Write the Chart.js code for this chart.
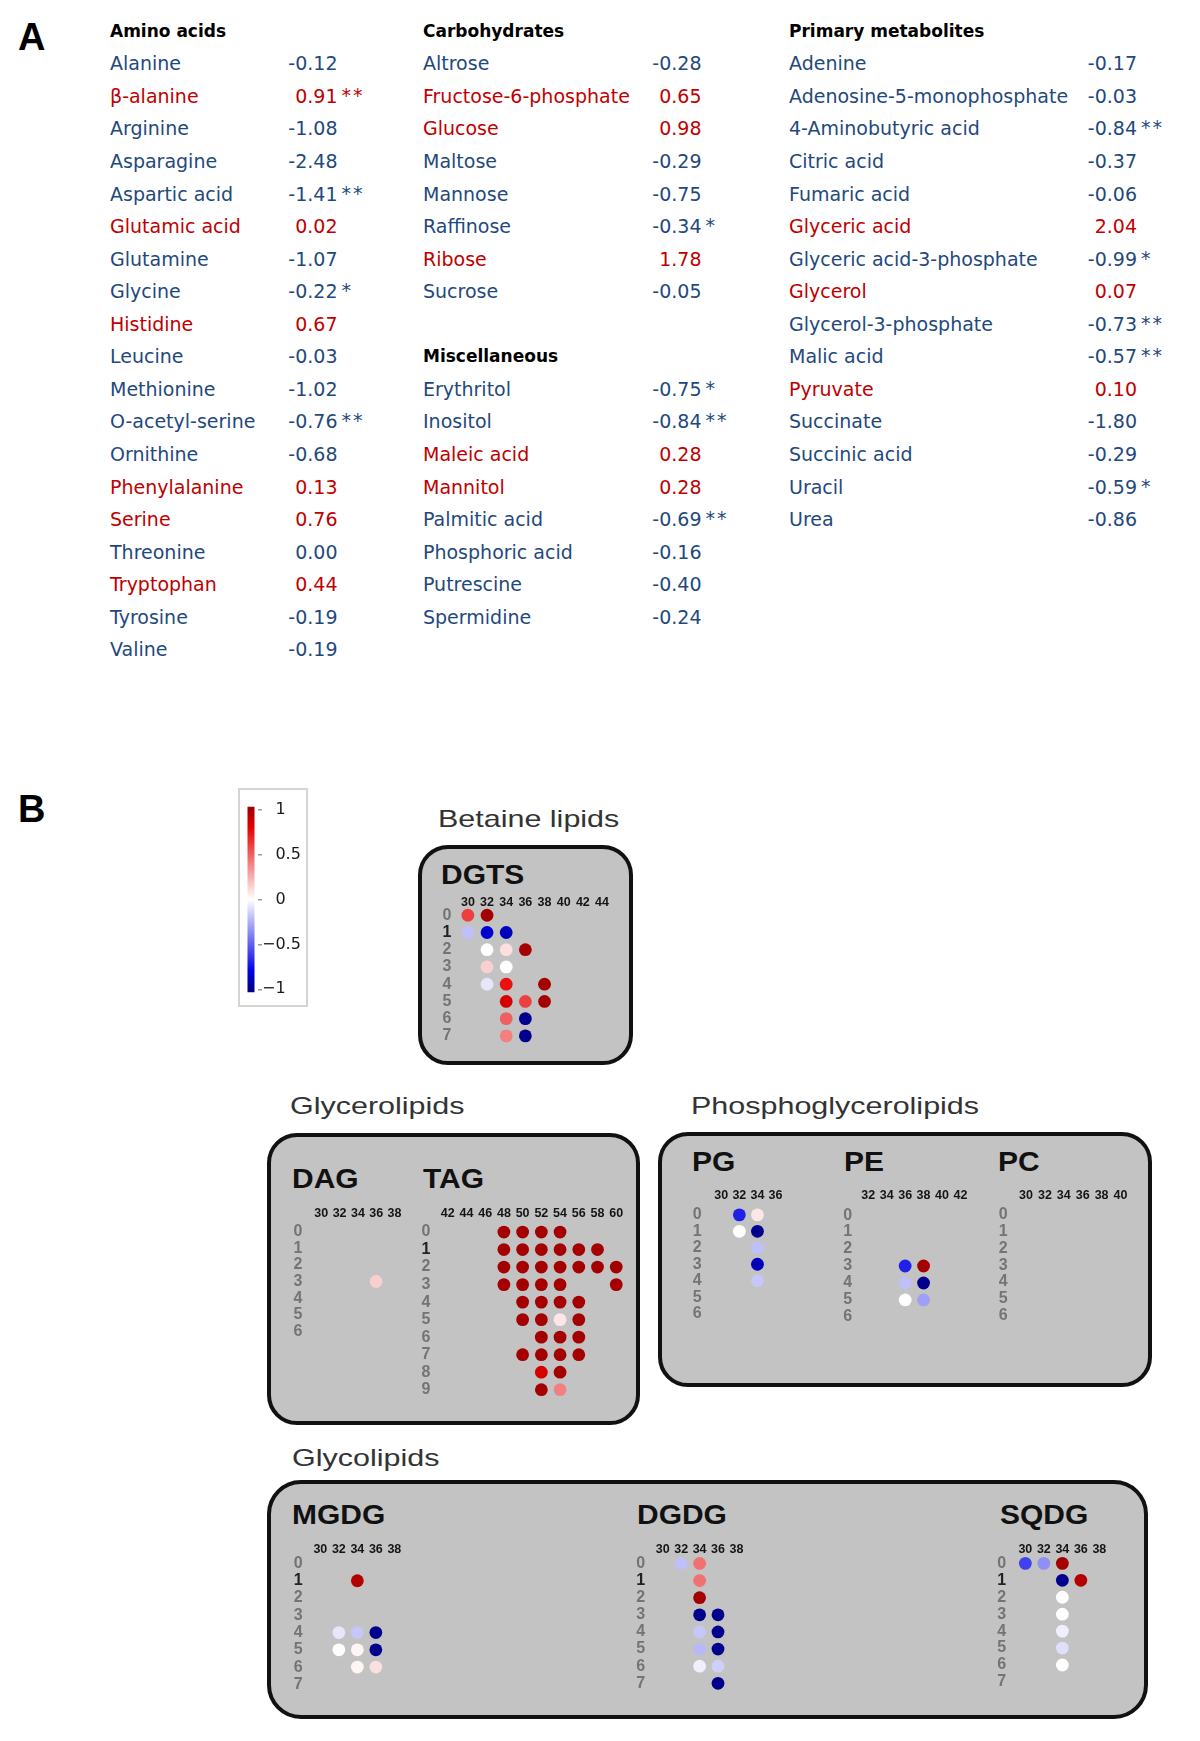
<!DOCTYPE html>
<html lang="en">
<head>
<meta charset="UTF-8">
<meta name="viewport" content="width=device-width, initial-scale=1.0">
<title>Metabolites and lipid species</title>
<script src="https://cdn.jsdelivr.net/npm/chart.js"></script>
<style>
body { margin: 0; background: #fff; }
#page { position: relative; width: 1200px; height: 1741px; overflow: hidden; font-family: 'DejaVu Sans', sans-serif; }

/* grosses lettres A / B */
.letter { position: absolute; font: bold 38px 'Liberation Sans Narrow', 'Liberation Sans', sans-serif; line-height: 38px; color: #000; }

/* tableau A */
.cell { position: absolute; height: 32px; line-height: 32px; font-size: 19px; white-space: nowrap; }
.head { font-weight: bold; font-size: 17px; color: #000; }
.up { color: #c00000; }
.down { color: #1f497d; }
.stars { letter-spacing: 2px; }

/* cadres gris des lipides */
.box { position: absolute; box-sizing: border-box; background: #c3c3c3; border: 4px solid #111; border-radius: 30px; }
.group { position: absolute; font: 24px 'Liberation Sans', Arial, sans-serif; line-height: 24px; color: #333; transform: scaleX(1.27); transform-origin: 0 0; white-space: nowrap; }
.cls { position: absolute; font: bold 28px 'Liberation Sans', Arial, sans-serif; line-height: 28px; color: #111; transform: scaleX(1.07); transform-origin: 0 0; }
.legend-frame { position: absolute; left: 238px; top: 788px; width: 70px; height: 219px; box-sizing: border-box; border: 2px solid #d4d4d4; }
canvas { position: absolute; }
</style>
</head>
<body>
<div id="page">
    <div class="letter" style="left:18px;top:18px">A</div>
    <div id="tableA"></div>

    <div class="letter" style="left:18px;top:790px">B</div>
    <div class="legend-frame"></div>
    <canvas id="legendScale"></canvas>

    <div class="group" style="left:438px;top:807px">Betaine lipids</div>
    <div class="box" style="left:418px;top:845px;width:215px;height:220px"></div>
    <div class="cls" style="left:441px;top:861px">DGTS</div>

    <div class="group" style="left:290px;top:1094px">Glycerolipids</div>
    <div class="box" style="left:267px;top:1133px;width:373px;height:292px"></div>
    <div class="cls" style="left:292px;top:1165px">DAG</div>
    <div class="cls" style="left:423px;top:1165px">TAG</div>

    <div class="group" style="left:691px;top:1094px">Phosphoglycerolipids</div>
    <div class="box" style="left:658px;top:1132px;width:494px;height:255px"></div>
    <div class="cls" style="left:692px;top:1148px">PG</div>
    <div class="cls" style="left:844px;top:1148px">PE</div>
    <div class="cls" style="left:998px;top:1148px">PC</div>

    <div class="group" style="left:292px;top:1446px">Glycolipids</div>
    <div class="box" style="left:267px;top:1480px;width:881px;height:239px;border-radius:34px"></div>
    <div class="cls" style="left:292px;top:1501px">MGDG</div>
    <div class="cls" style="left:637px;top:1501px">DGDG</div>
    <div class="cls" style="left:1000px;top:1501px">SQDG</div>

    <canvas id="dgts"></canvas>
    <canvas id="dag"></canvas>
    <canvas id="tag"></canvas>
    <canvas id="pg"></canvas>
    <canvas id="pe"></canvas>
    <canvas id="pc"></canvas>
    <canvas id="mgdg"></canvas>
    <canvas id="dgdg"></canvas>
    <canvas id="sqdg"></canvas>
</div>

<script>
// ---- A : log2 fold changes des metabolites ----
const aminoNames = ['Alanine', 'β-alanine', 'Arginine', 'Asparagine', 'Aspartic acid', 'Glutamic acid', 'Glutamine', 'Glycine', 'Histidine', 'Leucine', 'Methionine', 'O-acetyl-serine', 'Ornithine', 'Phenylalanine', 'Serine', 'Threonine', 'Tryptophan', 'Tyrosine', 'Valine'];
const aminoValues = [-0.12, 0.91, -1.08, -2.48, -1.41, 0.02, -1.07, -0.22, 0.67, -0.03, -1.02, -0.76, -0.68, 0.13, 0.76, 0.00, 0.44, -0.19, -0.19];
const aminoStars = ['', '**', '', '', '**', '', '', '*', '', '', '', '**', '', '', '', '', '', '', ''];

const carbNames = ['Altrose', 'Fructose-6-phosphate', 'Glucose', 'Maltose', 'Mannose', 'Raffinose', 'Ribose', 'Sucrose'];
const carbValues = [-0.28, 0.65, 0.98, -0.29, -0.75, -0.34, 1.78, -0.05];
const carbStars = ['', '', '', '', '', '*', '', ''];

const miscNames = ['Erythritol', 'Inositol', 'Maleic acid', 'Mannitol', 'Palmitic acid', 'Phosphoric acid', 'Putrescine', 'Spermidine'];
const miscValues = [-0.75, -0.84, 0.28, 0.28, -0.69, -0.16, -0.40, -0.24];
const miscStars = ['*', '**', '', '', '**', '', '', ''];

const primNames = ['Adenine', 'Adenosine-5-monophosphate', '4-Aminobutyric acid', 'Citric acid', 'Fumaric acid', 'Glyceric acid', 'Glyceric acid-3-phosphate', 'Glycerol', 'Glycerol-3-phosphate', 'Malic acid', 'Pyruvate', 'Succinate', 'Succinic acid', 'Uracil', 'Urea'];
const primValues = [-0.17, -0.03, -0.84, -0.37, -0.06, 2.04, -0.99, 0.07, -0.73, -0.57, 0.10, -1.80, -0.29, -0.59, -0.86];
const primStars = ['', '', '**', '', '', '', '*', '', '**', '**', '', '', '', '*', ''];

// ---- B : especes lipidiques [longueur de chaine, doubles liaisons, log2 FC] ----
const dgtsChains = [30, 32, 34, 36, 38, 40, 42, 44];
const dgtsBonds = [0, 1, 2, 3, 4, 5, 6, 7];
const dgtsPoints = [
    [30, 0, 0.6], [32, 0, 1.0],
    [30, 1, -0.2], [32, 1, -0.85], [34, 1, -0.9],
    [32, 2, 0.0], [34, 2, 0.1], [36, 2, 1.0],
    [32, 3, 0.15], [34, 3, 0.0],
    [32, 4, -0.08], [34, 4, 0.75], [38, 4, 1.0],
    [34, 5, 0.85], [36, 5, 0.6], [38, 5, 1.0],
    [34, 6, 0.5], [36, 6, -1.0],
    [34, 7, 0.4], [36, 7, -1.0]
];

const dagChains = [30, 32, 34, 36, 38];
const dagBonds = [0, 1, 2, 3, 4, 5, 6];
const dagPoints = [[36, 3, 0.15]];

const tagChains = [42, 44, 46, 48, 50, 52, 54, 56, 58, 60];
const tagBonds = [0, 1, 2, 3, 4, 5, 6, 7, 8, 9];
const tagPoints = [
    [48, 0, 1], [50, 0, 1], [52, 0, 1], [54, 0, 1],
    [48, 1, 1], [50, 1, 1], [52, 1, 1], [54, 1, 1], [56, 1, 1], [58, 1, 1],
    [48, 2, 1], [50, 2, 1], [52, 2, 1], [54, 2, 1], [56, 2, 1], [58, 2, 1], [60, 2, 1],
    [48, 3, 1], [50, 3, 1], [52, 3, 1], [54, 3, 1], [60, 3, 1],
    [50, 4, 1], [52, 4, 1], [54, 4, 1], [56, 4, 1],
    [50, 5, 1], [52, 5, 1], [54, 5, 0.08], [56, 5, 1],
    [52, 6, 1], [54, 6, 1], [56, 6, 1],
    [50, 7, 1], [52, 7, 1], [54, 7, 1], [56, 7, 1],
    [52, 8, 0.85], [54, 8, 1],
    [52, 9, 1], [54, 9, 0.4]
];

const pgChains = [30, 32, 34, 36];
const peChains = [32, 34, 36, 38, 40, 42];
const pcChains = [30, 32, 34, 36, 38, 40];
const phosphoBonds = [0, 1, 2, 3, 4, 5, 6];
const pgPoints = [
    [32, 0, -0.7], [34, 0, 0.08],
    [32, 1, 0.0], [34, 1, -1.0],
    [34, 2, -0.2], [34, 3, -0.9], [34, 4, -0.18]
];
const pePoints = [
    [36, 3, -0.7], [38, 3, 1.0],
    [36, 4, -0.2], [38, 4, -1.0],
    [36, 5, 0.0], [38, 5, -0.3]
];
const pcPoints = [];

const glycoChains = [30, 32, 34, 36, 38];
const glycoBonds = [0, 1, 2, 3, 4, 5, 6, 7];
const mgdgPoints = [
    [34, 1, 0.95],
    [32, 4, -0.08], [34, 4, -0.18], [36, 4, -1.0],
    [32, 5, 0.0], [34, 5, 0.03], [36, 5, -1.0],
    [34, 6, 0.03], [36, 6, 0.1]
];
const dgdgPoints = [
    [32, 0, -0.2], [34, 0, 0.45],
    [34, 1, 0.45], [34, 2, 1.0],
    [34, 3, -1.0], [36, 3, -1.0],
    [34, 4, -0.18], [36, 4, -1.0],
    [34, 5, -0.22], [36, 5, -1.0],
    [34, 6, -0.05], [36, 6, -0.15],
    [36, 7, -1.0]
];
const sqdgPoints = [
    [30, 0, -0.6], [32, 0, -0.35], [34, 0, 1.0],
    [34, 1, -1.0], [36, 1, 0.95],
    [34, 2, 0.0], [34, 3, 0.0], [34, 4, -0.05], [34, 5, -0.1], [34, 6, 0.0]
];

// echelle de couleur
const legendTicks = [1, 0.5, 0, -0.5, -1];
const legendExtent = [-1.035, 1.035];

// palette bleu-blanc-rouge
const heatStops = [[-1, [0, 0, 140]], [-0.8, [0, 0, 230]], [0, [255, 255, 255]], [0.8, [230, 0, 0]], [1, [165, 0, 0]]];

function heat(v) {
    v = Math.max(-1, Math.min(1, v));
    for (let i = 1; i < heatStops.length; i++) {
        const [v1, c1] = heatStops[i];
        const [v0, c0] = heatStops[i - 1];
        if (v <= v1) {
            const t = (v - v0) / (v1 - v0);
            const c = c0.map((x, k) => Math.round(x + (c1[k] - x) * t));
            return `rgb(${c[0]},${c[1]},${c[2]})`;
        }
    }
    return 'rgb(165,0,0)';
}

Chart.defaults.font.family = "'DejaVu Sans', sans-serif";

// ---------- tableau A ----------
const rowY = i => 63.3 + 32.56 * i;
const blocks = [
    { title: 'Amino acids', names: aminoNames, values: aminoValues, stars: aminoStars, nameX: 110, valRight: 337.5, row: -1 },
    { title: 'Carbohydrates', names: carbNames, values: carbValues, stars: carbStars, nameX: 423, valRight: 701.5, row: -1 },
    { title: 'Miscellaneous', names: miscNames, values: miscValues, stars: miscStars, nameX: 423, valRight: 701.5, row: 9 },
    { title: 'Primary metabolites', names: primNames, values: primValues, stars: primStars, nameX: 789, valRight: 1137, row: -1 }
];

const tableA = document.getElementById('tableA');
function addCell(text, cls, css) {
    const d = document.createElement('div');
    d.className = 'cell ' + cls;
    d.textContent = text;
    Object.assign(d.style, css);
    tableA.appendChild(d);
}
blocks.forEach(b => {
    addCell(b.title, 'head', { left: b.nameX + 'px', top: (rowY(b.row) - 16) + 'px' });
    b.names.forEach((n, i) => {
        const y = rowY(b.row + 1 + i) - 16;
        const tone = b.values[i] > 0 ? 'up' : 'down';
        addCell(n, tone, { left: b.nameX + 'px', top: y + 'px' });
        addCell(b.values[i].toFixed(2), tone, { right: (1200 - b.valRight) + 'px', top: y + 'px', textAlign: 'right' });
        if (b.stars[i]) addCell(b.stars[i], tone + ' stars', { left: (b.valRight + 4) + 'px', top: (y - 1) + 'px' });
    });
});

// ---------- panneaux B ----------
const panels = [
    { id: 'dgts', pts: dgtsPoints, chains: dgtsChains, bonds: dgtsBonds, x0: 468, dx: 19.4, y0: 916, dy: 18.75, labelX: 447, headY: 902.5, darkOne: true },
    { id: 'dag', pts: dagPoints, chains: dagChains, bonds: dagBonds, x0: 321.5, dx: 18.7, y0: 1232.7, dy: 18.8, labelX: 298, headY: 1214, darkOne: false },
    { id: 'tag', pts: tagPoints, chains: tagChains, bonds: tagBonds, x0: 447.8, dx: 18.9, y0: 1232.7, dy: 18.8, labelX: 426, headY: 1214, darkOne: true },
    { id: 'pg', pts: pgPoints, chains: pgChains, bonds: phosphoBonds, x0: 721.5, dx: 18.6, y0: 1216, dy: 18.72, labelX: 697.3, headY: 1196, darkOne: false },
    { id: 'pe', pts: pePoints, chains: peChains, bonds: phosphoBonds, x0: 868.5, dx: 18.8, y0: 1216, dy: 18.72, labelX: 847.7, headY: 1196, darkOne: false },
    { id: 'pc', pts: pcPoints, chains: pcChains, bonds: phosphoBonds, x0: 1026, dx: 18.9, y0: 1216, dy: 18.72, labelX: 1003.3, headY: 1196, darkOne: false },
    { id: 'mgdg', pts: mgdgPoints, chains: glycoChains, bonds: glycoBonds, x0: 320.5, dx: 18.8, y0: 1564.3, dy: 18.9, labelX: 298.3, headY: 1549.5, darkOne: true },
    { id: 'dgdg', pts: dgdgPoints, chains: glycoChains, bonds: glycoBonds, x0: 663, dx: 18.8, y0: 1564.3, dy: 18.8, labelX: 640.7, headY: 1550, darkOne: true },
    { id: 'sqdg', pts: sqdgPoints, chains: glycoChains, bonds: glycoBonds, x0: 1025.5, dx: 18.8, y0: 1564.3, dy: 18.8, labelX: 1001.7, headY: 1550, darkOne: true }
];

const AXW = 40, AXH = 30, HEAD_SIZE = 12.5, ROW_SIZE = 16;
const tickFamily = "'Liberation Sans', Arial, sans-serif";

function drawPanel(p) {
    const areaL = p.x0 - p.dx / 2, areaT = p.y0 - p.dy / 2;
    const w = p.chains.length * p.dx, h = p.bonds.length * p.dy;
    const cv = document.getElementById(p.id);
    const left = Math.floor(areaL - AXW), top = Math.floor(areaT - AXH);
    const padL = areaL - AXW - left, padT = areaT - AXH - top;
    cv.width = Math.ceil(padL + AXW + w + 4);
    cv.height = Math.ceil(padT + AXH + h + 4);
    cv.style.left = left + 'px';
    cv.style.top = top + 'px';

    return new Chart(cv, {
        type: 'scatter',
        data: {
            datasets: [{
                data: p.pts.map(d => ({ x: d[0], y: d[1] })),
                pointBackgroundColor: p.pts.map(d => heat(d[2])),
                pointRadius: 6.4,
                pointHoverRadius: 6.4,
                pointBorderWidth: 0
            }]
        },
        options: {
            responsive: false,
            animation: false,
            events: [],
            layout: { padding: { left: padL, top: padT, right: cv.width - padL - AXW - w, bottom: cv.height - padT - AXH - h } },
            plugins: { legend: { display: false }, tooltip: { enabled: false } },
            scales: {
                x: {
                    type: 'linear', position: 'top',
                    min: p.chains[0] - 1, max: p.chains[p.chains.length - 1] + 1,
                    afterBuildTicks: s => { s.ticks = p.chains.map(v => ({ value: v })); },
                    afterFit: s => { s.height = AXH; },
                    grid: { display: false, drawTicks: false },
                    border: { display: false },
                    ticks: {
                        autoSkip: false, maxRotation: 0, minRotation: 0,
                        padding: areaT - p.headY - 0.6 * HEAD_SIZE,
                        font: { family: tickFamily, size: HEAD_SIZE, weight: 'bold' },
                        color: '#151515'
                    }
                },
                y: {
                    type: 'linear', reverse: true,
                    min: -0.5, max: p.bonds.length - 0.5,
                    afterBuildTicks: s => { s.ticks = p.bonds.map(v => ({ value: v })); },
                    afterFit: s => { s.width = AXW; },
                    grid: { display: false, drawTicks: false },
                    border: { display: false },
                    ticks: {
                        autoSkip: false,
                        padding: areaL - (p.labelX + 4.4),
                        font: { family: tickFamily, size: ROW_SIZE, weight: 'bold' },
                        color: c => (p.darkOne && c.tick.value === 1) ? '#222' : '#747474'
                    }
                }
            }
        }
    });
}
panels.forEach(drawPanel);

// ---------- barre de couleur ----------
(function () {
    const cv = document.getElementById('legendScale');
    cv.width = 64; cv.height = 205;
    cv.style.left = '244px'; cv.style.top = '797px';
    new Chart(cv, {
        type: 'bar',
        data: {
            labels: [''],
            datasets: [{
                data: [legendExtent],
                barPercentage: 0.5,
                categoryPercentage: 1,
                borderWidth: 0,
                backgroundColor: ctx => {
                    const ch = ctx.chart;
                    if (!ch.chartArea) return 'rgba(0,0,0,0)';
                    const ys = ch.scales.y;
                    const g = ch.ctx.createLinearGradient(0, ys.getPixelForValue(-1), 0, ys.getPixelForValue(1));
                    heatStops.forEach(s => g.addColorStop((s[0] + 1) / 2, `rgb(${s[1].join(',')})`));
                    return g;
                }
            }]
        },
        options: {
            responsive: false,
            animation: false,
            events: [],
            layout: { padding: { top: 7, bottom: 7, left: 0, right: 0 } },
            plugins: { legend: { display: false }, tooltip: { enabled: false } },
            scales: {
                x: { display: false },
                y: {
                    position: 'right',
                    min: legendExtent[0], max: legendExtent[1],
                    afterBuildTicks: s => { s.ticks = legendTicks.map(v => ({ value: v })); },
                    afterFit: s => { s.width = 50; },
                    grid: { drawOnChartArea: false, drawTicks: true, tickLength: 4, color: '#9a9a9a', lineWidth: 1.5 },
                    border: { display: false },
                    ticks: {
                        padding: 0,
                        font: { size: 16 },
                        color: '#1a1a1a',
                        callback: v => v < 0 ? '\u2212' + Math.abs(v) : '\u2007\u2009' + v
                    }
                }
            }
        }
    });
})();
</script>
</body>
</html>
